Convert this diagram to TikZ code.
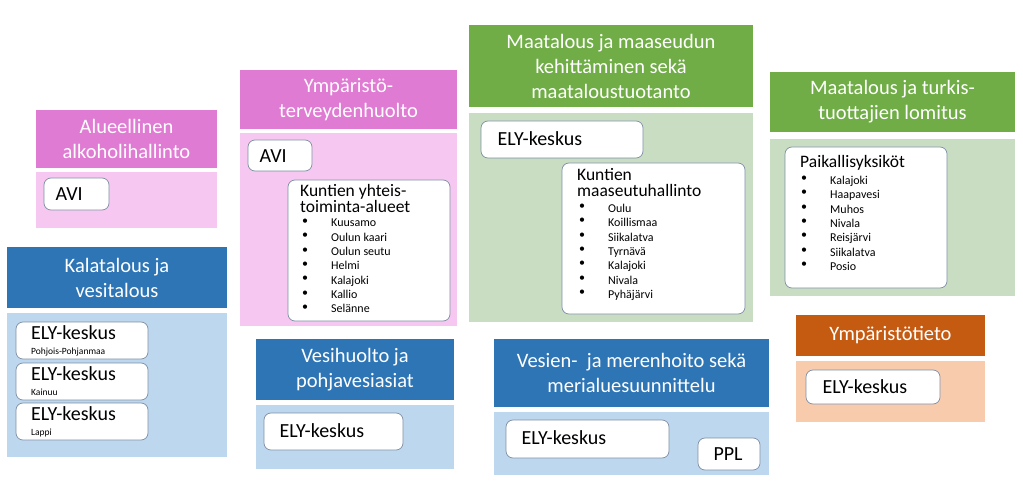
\documentclass[tikz,border=0pt]{standalone}
\usepackage{fontspec}
\setmainfont{Carlito}
\definecolor{pinkD}{HTML}{E07BD3}
\definecolor{pinkL}{HTML}{F6C7F0}
\definecolor{blueD}{HTML}{2E75B6}
\definecolor{blueL}{HTML}{BDD7EE}
\definecolor{greenD}{HTML}{70AD47}
\definecolor{greenL}{HTML}{C9DDC3}
\definecolor{orD}{HTML}{C55A11}
\definecolor{orL}{HTML}{F8CBAD}
\definecolor{edge}{HTML}{7F8FA6}
\begin{document}
\begin{tikzpicture}[x=1pt,y=-1pt,
 hdr/.style={text=white,font=\fontsize{20.5}{25}\selectfont,align=center},
 wbox/.style={draw=edge,fill=white,rounded corners=7pt,line width=0.7pt},
 big/.style={font=\fontsize{20}{22}\selectfont,anchor=west},
 sub/.style={font=\fontsize{17.5}{16}\selectfont,anchor=north west,align=left,inner sep=0pt},
 lst/.style={font=\fontsize{12}{14.3}\selectfont,anchor=north west,align=left,inner sep=0pt}]
\useasboundingbox (0,0) rectangle (1023,484);
\newcommand\hb[6]{\fill[#5] (#1,#2) rectangle (#3,#4); \node[hdr] at ({(#1+#3)/2},{(#2+#4)/2}) {#6};}
\newcommand\bb[5]{\fill[#5] (#1,#2) rectangle (#3,#4);}
% 1
\hb{36}{110}{217}{168}{pinkD}{Alueellinen\\alkoholihallinto}
\bb{36}{172}{217}{228}{pinkL}
\draw[wbox] (44,178) rectangle (109,210); \node[big] (a1) at (52,194) {AVI};
% 2
\hb{240}{70}{457}{129}{pinkD}{Ympäristö-\\terveydenhuolto}
\bb{240}{133}{457}{326}{pinkL}
\draw[wbox] (248,140) rectangle (312,171); \node[big] (a2) at (256,156) {AVI};
\draw[wbox] (288,180) rectangle (450,321);
\node[sub] (k1) at (300,184) {Kuntien yhteis-\\toiminta-alueet};
\node[lst] (l1) at (302,219) {•\\•\\•\\•\\•\\•\\•};
\node[lst] (l1b) at (331,219) {Kuusamo\\Oulun kaari\\Oulun seutu\\Helmi\\Kalajoki\\Kallio\\Selänne};
% 3
\hb{7}{247}{227}{308}{blueD}{Kalatalous ja\\vesitalous}
\bb{7}{313}{227}{457}{blueL}
\foreach \y/\t [count=\i] in {322/Pohjois-Pohjanmaa,363/Kainuu,403/Lappi}{
 \draw[wbox] (16,\y) rectangle (148,\y+37);
 \node[big,anchor=north west,inner sep=0pt] (e\i) at (31,\y+3) {ELY-keskus};
 \node[font=\fontsize{9.5}{10}\selectfont,anchor=north west,inner sep=0pt] (s\i) at (31,\y+26) {\t};}
% 4
\hb{256}{339}{454}{400}{blueD}{Vesihuolto ja\\pohjavesiasiat}
\bb{256}{405}{454}{469}{blueL}
\draw[wbox] (264,413) rectangle (403,450); \node[big] (e4) at (276,431) {ELY-keskus};
% 5
\hb{469}{25}{753}{107}{greenD}{Maatalous ja maaseudun\\kehittäminen sekä\\maataloustuotanto}
\bb{469}{113}{753}{322}{greenL}
\draw[wbox] (481,121) rectangle (643,158); \node[big] (e5) at (494,139) {ELY-keskus};
\draw[wbox] (562,163) rectangle (745,314);
\node[sub] (k2) at (577,168) {Kuntien\\maaseutuhallinto};
\node[lst] (l2) at (579,204) {•\\•\\•\\•\\•\\•\\•};
\node[lst] (l2b) at (608,204) {Oulu\\Koillismaa\\Siikalatva\\Tyrnävä\\Kalajoki\\Nivala\\Pyhäjärvi};
% 6
\hb{770}{72}{1015}{132}{greenD}{Maatalous ja turkis-\\tuottajien lomitus}
\bb{770}{139}{1015}{296}{greenL}
\draw[wbox] (785,147) rectangle (947,288);
\node[sub] (p) at (800,155) {Paikallisyksiköt};
\node[lst] (l3) at (801,176) {•\\•\\•\\•\\•\\•\\•};
\node[lst] (l3b) at (830,176) {Kalajoki\\Haapavesi\\Muhos\\Nivala\\Reisjärvi\\Siikalatva\\Posio};
% 7
\hb{796}{315}{985}{356}{orD}{Ympäristötieto}
\bb{796}{361}{985}{422}{orL}
\draw[wbox] (806,370) rectangle (940,404); \node[big] (e7) at (819,387) {ELY-keskus};
% 8
\hb{494}{339}{769}{407}{blueD}{Vesien- \ ja merenhoito sekä\\merialuesuunnittelu}
\bb{494}{412}{769}{475}{blueL}
\draw[wbox] (506,420) rectangle (669,458); \node[big] (e8) at (518,438) {ELY-keskus};
\draw[wbox] (698,438) rectangle (760,470); \node[big] (ppl) at (710,454) {PPL};
\end{tikzpicture}
\end{document}
